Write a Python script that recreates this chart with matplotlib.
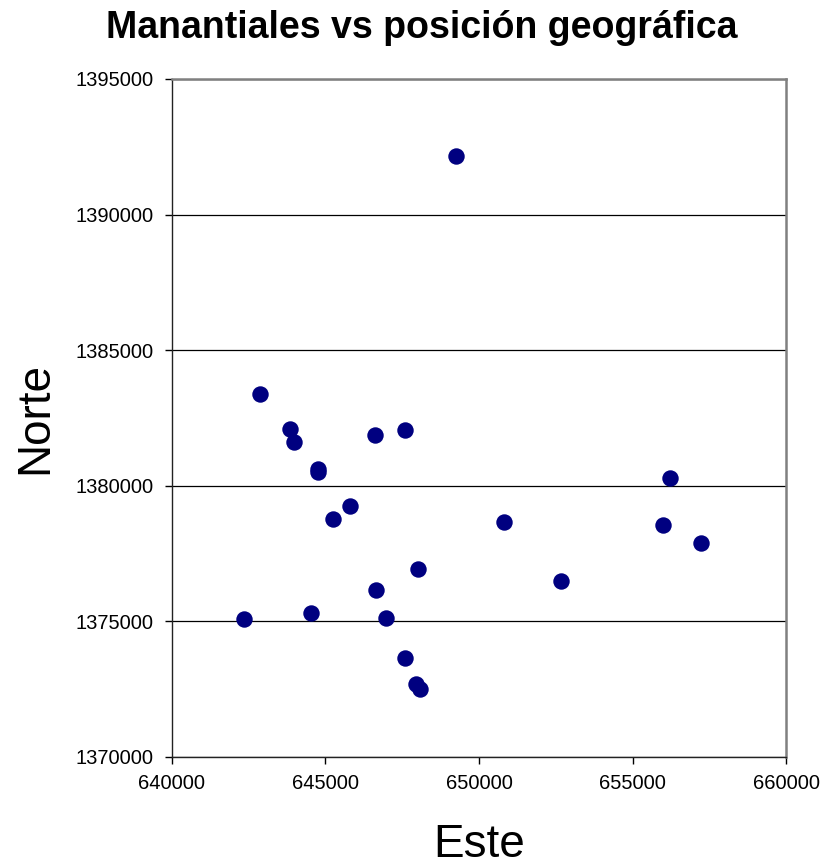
import matplotlib.pyplot as plt

COL_POINT = "#000080"

plt.rcParams.update({
    "font.family": ["Liberation Sans", "DejaVu Sans"],
    "font.size": 14,
})

# Coordenadas de los manantiales (UTM)
este = [
    649250, 642870, 643840, 643970, 644750, 644760, 646610, 647590,
    645800, 645240, 648010, 646640, 644530, 646970, 647590, 647950,
    648080, 642350, 650810, 652670, 656220, 655990, 657230,
]
norte = [
    1392170, 1383370, 1382110, 1381630, 1380620, 1380500, 1381890, 1382040,
    1379240, 1378760, 1376920, 1376150, 1375300, 1375120, 1373650, 1372690,
    1372500, 1375080, 1378650, 1376480, 1380290, 1378570, 1377880,
]

x_ticks = [640000, 645000, 650000, 655000, 660000]
y_ticks = [1370000, 1375000, 1380000, 1385000, 1390000, 1395000]


def main():
    fig = plt.figure(figsize=(8.24, 8.67), dpi=100)
    ax = fig.add_axes([0.2087, 0.1269, 0.7452, 0.7820])

    ax.scatter(este, norte, s=140, color=COL_POINT, zorder=3, linewidths=0)

    ax.set_xlim(x_ticks[0], x_ticks[-1])
    ax.set_ylim(y_ticks[0], y_ticks[-1])
    ax.set_xticks(x_ticks)
    ax.set_yticks(y_ticks)
    ax.set_xticklabels([str(v) for v in x_ticks])
    ax.set_yticklabels([str(v) for v in y_ticks])

    ax.yaxis.grid(True, color="black", lw=0.9)
    ax.set_axisbelow(True)

    ax.tick_params(axis="x", direction="out", length=5, width=1, pad=7, labelsize=14.5)
    ax.tick_params(axis="y", direction="out", length=5, width=1, pad=8, labelsize=14.5)

    for side in ("left", "bottom"):
        ax.spines[side].set_color("#222222")
        ax.spines[side].set_linewidth(1.0)
    for side in ("top", "right"):
        ax.spines[side].set_color("#808080")
        ax.spines[side].set_linewidth(1.8)

    ax.set_xlabel("Este", fontsize=33, va="center")
    ax.xaxis.set_label_coords(0.5, -0.13)
    ax.set_ylabel("Norte", fontsize=33, va="center")
    ax.yaxis.set_label_coords(-0.223, 0.5)

    fig.suptitle("Manantiales vs posición geográfica", x=0.512, y=0.9677,
                 va="center", fontsize=27, fontweight="bold")

    fig.savefig("out.png", dpi=100)


if __name__ == "__main__":
    main()
